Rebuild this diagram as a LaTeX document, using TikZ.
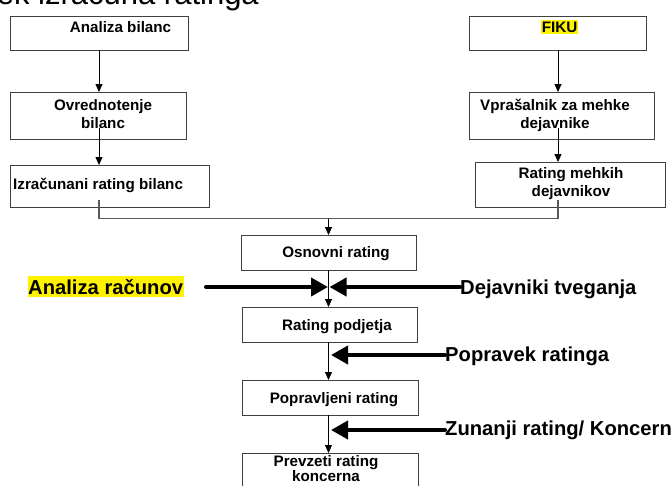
\documentclass[tikz,border=0pt]{standalone}
\usepackage{fontspec}
\setmainfont{Liberation Sans}
\usetikzlibrary{arrows.meta}

\begin{document}
\begin{tikzpicture}[x=1pt, y=-1pt,
    box/.style={draw=black!75, line width=0.9pt, inner sep=0pt, outer sep=0pt},
    boxtext/.style={font=\fontsize{15.2}{18}\selectfont\bfseries, align=center, inner sep=0pt},
    sidetext/.style={font=\fontsize{20.2}{22}\selectfont\bfseries, inner sep=0pt, anchor=base west},
    arr/.style={-{Triangle[length=8pt,width=7pt]}, line width=0.8pt},
    bigarr/.style={-{Triangle[length=17pt,width=18pt]}, line width=4pt, line cap=round}]
    \useasboundingbox (0,0) rectangle (672,485);
    \clip (0,0) rectangle (672,485);

    % Title (cut off at the top)
    \node[anchor=base east, inner sep=0pt, font=\fontsize{31}{33}\selectfont] (title) at (259,4) {Potek izračuna ratinga};

    % Left column: balance sheets
    \node[box, minimum width=178pt, minimum height=34pt] (ab) at (99,33) {};
    \node[boxtext, anchor=base] (abt) at (120.5,32) {Analiza bilanc};
    \node[box, minimum width=176pt, minimum height=47pt] (ob) at (98,115.5) {};
    \node[boxtext, anchor=north] (obt) at (103,99) {Ovrednotenje\\bilanc};
    \node[box, minimum width=199pt, minimum height=42pt] (irb) at (109.5,186) {};
    \node[boxtext, anchor=base west] (irbt) at (13,189) {Izračunani rating bilanc};

    % Right column: soft factors
    \node[box, minimum width=177pt, minimum height=34pt] (fiku) at (557.5,33) {};
    \node[boxtext, anchor=base, fill=yellow, inner xsep=0.5pt, inner ysep=1.5pt] (fikut) at (559.5,32) {FIKU};
    \node[box, minimum width=185pt, minimum height=47pt] (vpr) at (561.5,115.5) {};
    \node[boxtext, anchor=north] (vprt) at (555,99) {Vprašalnik za mehke\\dejavnike};
    \node[box, minimum width=190pt, minimum height=45pt] (rmd) at (570,184.5) {};
    \node[boxtext, anchor=north] (rmdt) at (571,167) {Rating mehkih\\dejavnikov};

    % Centre column
    \node[box, minimum width=175pt, minimum height=35pt] (osn) at (328.5,252.5) {};
    \node[boxtext, anchor=base] (osnt) at (336,257) {Osnovni rating};
    \node[box, minimum width=175pt, minimum height=35pt] (rp) at (329.5,324.5) {};
    \node[boxtext, anchor=base] (rpt) at (337,330) {Rating podjetja};
    \node[box, minimum width=176pt, minimum height=35pt] (pr) at (330,397.5) {};
    \node[boxtext, anchor=base] (prt) at (334,403) {Popravljeni rating};
    \node[box, minimum width=176pt, minimum height=42pt] (prev) at (330,474) {};
    \node[boxtext, anchor=north, font=\fontsize{15.2}{15}\selectfont\bfseries] (prevt) at (326,455) {Prevzeti rating\\koncerna};

    % Side inputs
    \node[sidetext, fill=yellow, inner xsep=0.5pt, inner ysep=3pt] (ar) at (27.5,294) {Analiza računov};
    \node[sidetext] (dt) at (460,294) {Dejavniki tveganja};
    \node[sidetext] (pop) at (445,361) {Popravek ratinga};
    \node[sidetext] (zun) at (445,435) {Zunanji rating/ Koncern};

    % Helper points
    \coordinate (lx) at (99,0);
    \coordinate (rx) at (558,0);
    \coordinate (cx) at (328.5,0);
    \coordinate (obout) at (99,128);
    \coordinate (vprout) at (558,128);
    \coordinate (irbout) at (99,200);
    \coordinate (rmdout) at (558,200);
    \coordinate (join) at (328.5,218.5);
    \coordinate (arstart) at (206,287);
    \coordinate (midL) at (328,287);
    \coordinate (midR) at (329.5,287);
    \coordinate (popm) at (331,355);
    \coordinate (zunm) at (331,430);

    % Flow of the left and right columns
    \draw[arr] (ab.south -| lx) -- (ob.north -| lx);
    \draw[arr] (obout) -- (irb.north -| lx);
    \draw[arr] (fiku.south -| rx) -- (vpr.north -| rx);
    \draw[arr] (vprout) -- (rmd.north -| rx);
    \draw[line width=1.4pt, black!65] (irbout) -- (irbout |- join) -- (rmdout |- join) -- (rmdout);
    \draw[arr] (join) -- (osn.north -| join);

    % Flow of the centre column
    \draw[arr] (osn.south -| cx) -- (rp.north -| cx);
    \draw[arr] (rp.south -| cx) -- (pr.north -| cx);
    \draw[arr] (pr.south -| cx) -- (prev.north -| cx);

    % Thick input arrows
    \draw[bigarr] (arstart) -- (midL);
    \draw[bigarr] (dt.west |- midR) -- (midR);
    \draw[bigarr] (pop.west |- popm) -- (popm);
    \draw[bigarr] (zun.west |- zunm) -- (zunm);
\end{tikzpicture}
\end{document}
